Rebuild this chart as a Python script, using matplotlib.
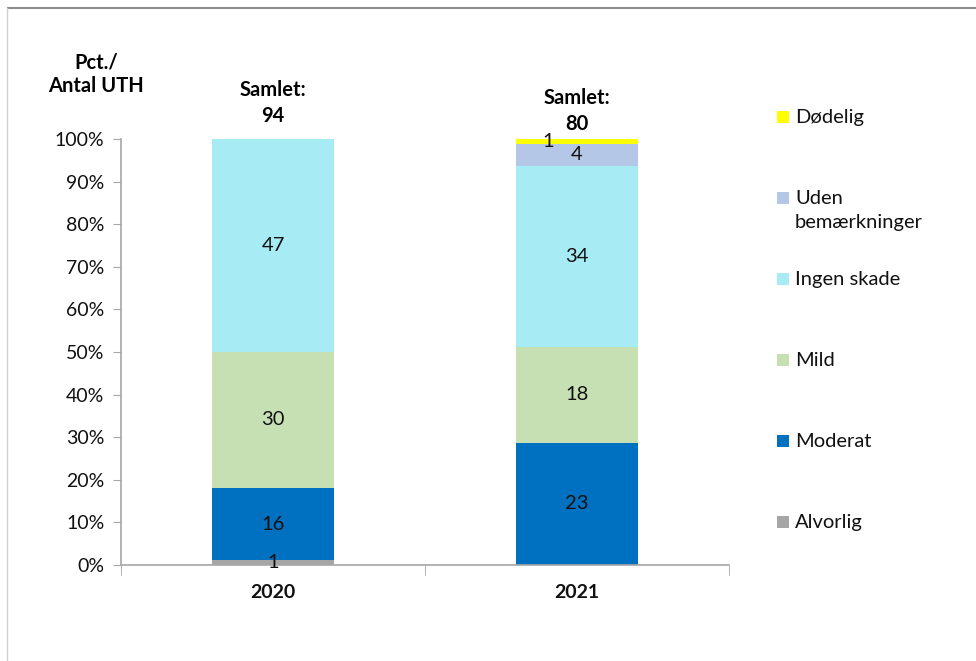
import numpy as np
import matplotlib.pyplot as plt
from matplotlib.patches import Rectangle
from matplotlib.lines import Line2D

plt.rcParams['font.family'] = ['Lato', 'DejaVu Sans']

# data: number of UTH per category and year
years = ['2020', '2021']
series = ['Alvorlig', 'Moderat', 'Mild', 'Ingen skade', 'Uden\nbemærkninger', 'Dødelig']
alvorlig = [1, 0]
moderat = [16, 23]
mild = [30, 18]
ingen_skade = [47, 34]
uden_bem = [0, 4]
doedelig = [0, 1]
colors = ['#A6A6A6', '#0070C0', '#C6E0B4', '#A7EBF5', '#B4C7E7', '#FFFF00']

counts = np.array([alvorlig, moderat, mild, ingen_skade, uden_bem, doedelig], dtype=float)
totals = counts.sum(axis=0)
pct = counts / totals * 100

fig = plt.figure(figsize=(9.76, 6.61), dpi=100)
ax = fig.add_axes([121/976, 1 - 565/661, (729 - 121)/976, (565 - 139)/661])

x = np.arange(len(years))
bottom = np.zeros(len(years))
for i in range(len(series)):
    ax.bar(x, pct[i], 0.4, bottom=bottom, color=colors[i], linewidth=0, zorder=2)
    for j in range(len(years)):
        if counts[i, j] > 0:
            dx = -0.095 if series[i] == 'Dødelig' else 0
            ax.text(x[j] + dx, bottom[j] + pct[i, j] / 2, '%d' % counts[i, j],
                    ha='center', va='center', fontsize=14.5, color='#111111', zorder=3)
    bottom += pct[i]

# totals above bars
samlet_y = [108.4, 106.6]
for j in range(len(years)):
    ax.text(x[j], samlet_y[j], 'Samlet:\n%d' % totals[j], ha='center', va='center',
            fontsize=14.5, fontweight='bold', linespacing=1.4, clip_on=False)

ax.set_xlim(-0.5, 1.5)
ax.set_ylim(0, 100)
ax.set_yticks(np.arange(0, 101, 10))
ax.set_yticklabels(['%d%%' % v for v in range(0, 101, 10)])
ax.set_xticks(x)
ax.set_xticklabels(years, fontweight='bold', fontsize=14)
ax.set_xticks([-0.5, 0.5, 1.5], minor=True)
ax.tick_params(axis='x', which='major', length=0, pad=14)
ax.tick_params(axis='x', which='minor', length=7, color='#A6A6A6', direction='out')
ax.tick_params(axis='y', length=6, color='#A6A6A6', labelsize=14, pad=6, colors='#A6A6A6', labelcolor='#111111')
ax.tick_params(axis='x', labelcolor='#111111')
for s in ['top', 'right']:
    ax.spines[s].set_visible(False)
for s in ['left', 'bottom']:
    ax.spines[s].set_color('#A6A6A6')
    ax.spines[s].set_linewidth(1.2)

fig.text(96/976, 1 - 74.5/661, 'Pct./\nAntal UTH', ha='center', va='center',
         fontsize=14.5, fontweight='bold', linespacing=1.25)

# legend, top to bottom
for k, i in enumerate(range(len(series) - 1, -1, -1)):
    yc = 116 + 81 * k
    fig.add_artist(Rectangle((777/976, 1 - (yc + 7)/661), 12/976, 12/661,
                             transform=fig.transFigure, color=colors[i], lw=0))
    fig.text(795/976, 1 - (yc - 7)/661, series[i], ha='left', va='top',
             fontsize=14.5, color='#111111', linespacing=1.5)

# outer border of the chart area
fig.add_artist(Line2D([8/976, 1], [1 - 8/661, 1 - 8/661], transform=fig.transFigure,
                      color='#8C8C8C', lw=1.5))
fig.add_artist(Line2D([7/976, 7/976], [0, 1 - 8/661], transform=fig.transFigure,
                      color='#D0D0D0', lw=1.0))

fig.savefig('out.png', dpi=100)
